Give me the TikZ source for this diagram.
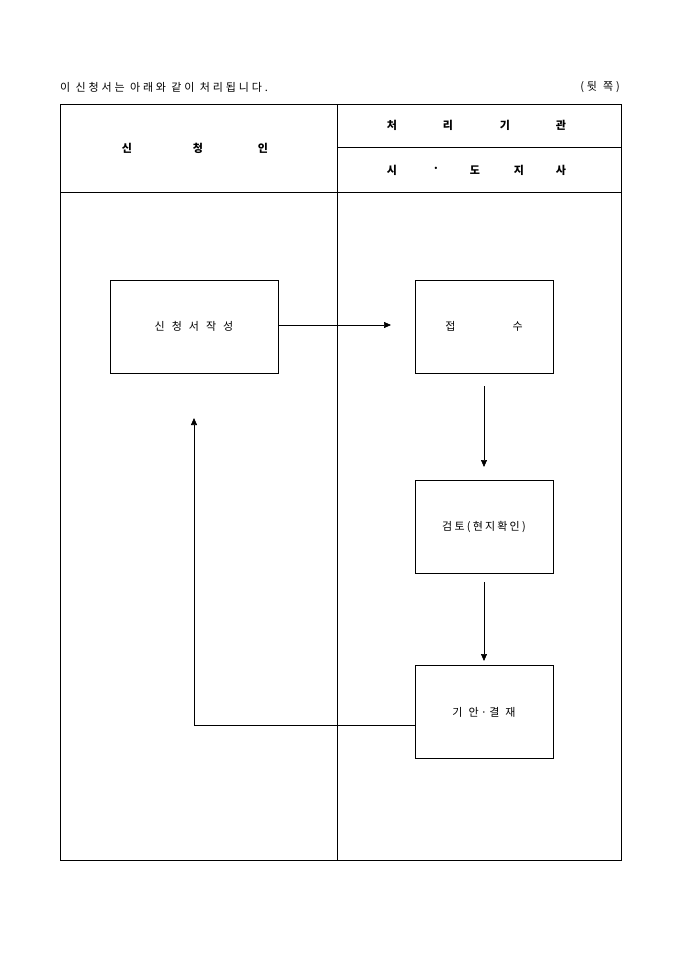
\documentclass[tikz,border=0pt]{standalone}
\usepackage{fontspec}
\setmainfont{Noto Sans CJK KR}
\usetikzlibrary{arrows.meta}
\begin{document}
\begin{tikzpicture}[x=1pt,y=-1pt,
  frame/.style={line width=1pt},
  boxnode/.style={draw,line width=0.7pt,minimum width=168pt,minimum height=93pt,inner sep=0pt,font=\fontsize{11}{13}\selectfont\addfontfeature{LetterSpace=20}},
  rbox/.style={boxnode,minimum width=138pt},
  arr/.style={line width=0.7pt,-{Triangle[length=7pt,width=6pt]}},
  hd/.style={font=\fontsize{11}{13}\selectfont\bfseries},
  tx/.style={font=\fontsize{11}{13}\selectfont\addfontfeature{LetterSpace=26},inner sep=0pt}]
\useasboundingbox (0,0) rectangle (680,962);
% table
\draw[frame] (60,104) rectangle (621,860);
\draw[frame] (60,192) -- (621,192);
\draw[frame] (337,147) -- (621,147);
\draw[frame] (337,104) -- (337,860);
% top texts
\node[tx,anchor=west] (title) at (60,87) {이 신청서는 아래와 같이 처리됩니다.};
\node[tx,anchor=east] (side) at (620,87) {(뒷\hspace{6pt}쪽)};
% headers
\node[hd] (h1) at (127,148) {신};
\node[hd] (h2) at (198,148) {청};
\node[hd] (h3) at (263,148) {인};
\node[hd] (c1) at (392,125) {처};
\node[hd] (c2) at (448,125) {리};
\node[hd] (c3) at (505,125) {기};
\node[hd] (c4) at (561,125) {관};
\node[hd] (s1) at (392,170) {시};
\node[hd] (s2) at (436,170) {·};
\node[hd] (s3) at (475,170) {도};
\node[hd] (s4) at (519,170) {지};
\node[hd] (s5) at (561,170) {사};
% boxes
\node[boxnode] (apply) at (194,326.5) {신\hspace{7pt}청\hspace{7pt}서\hspace{7pt}작\hspace{7pt}성};
\node[rbox] (recv) at (484,326.5) {접\hspace{57pt}수\hspace{4pt}};
\node[rbox] (review) at (484,526.5) {검토(현지확인)};
\node[rbox] (approve) at (484,712) {기\hspace{6pt}안·결\hspace{6pt}재};
% connectors
\coordinate (a1) at (391,325);
\draw[arr] (apply.east |- a1) -- (a1);
\coordinate (b0) at (484,386);
\coordinate (b1) at (484,467);
\draw[arr] (b0) -- (b1);
\coordinate (c0) at (484,582);
\coordinate (c1p) at (484,661);
\draw[arr] (c0) -- (c1p);
\coordinate (d1) at (194,725);
\coordinate (d2) at (194,418);
\draw[arr] (approve.west |- d1) -- (d1) -- (d2);
\end{tikzpicture}
\end{document}
